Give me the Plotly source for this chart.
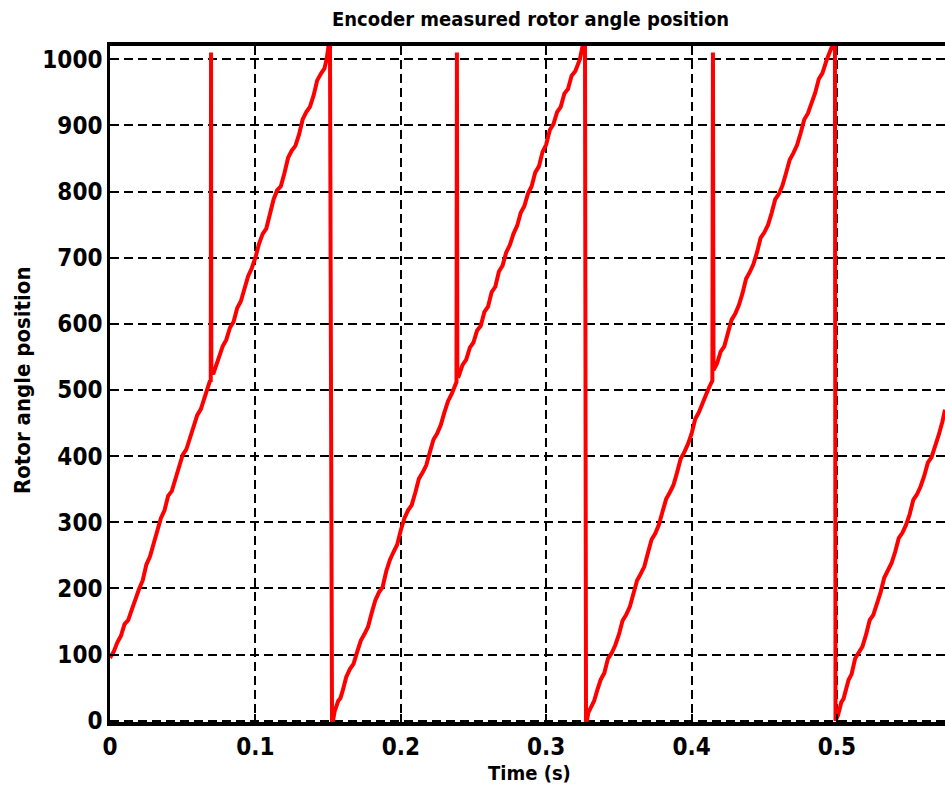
import plotly.graph_objects as go

# ---- data ----
ramp1_t = [0.0000, 0.0025, 0.0050, 0.0075, 0.0100, 0.0125, 0.0150, 0.0175, 0.0200, 0.0225,
           0.0250, 0.0275, 0.0300, 0.0325, 0.0350, 0.0375, 0.0400, 0.0425, 0.0450, 0.0475,
           0.0500, 0.0525, 0.0550, 0.0575, 0.0600, 0.0625, 0.0650, 0.0670, 0.0688, 0.0693,
           0.0695, 0.0697, 0.0710, 0.0735, 0.0750, 0.0775, 0.0800, 0.0825, 0.0850, 0.0875,
           0.0900, 0.0925, 0.0950, 0.0975, 0.1000, 0.1025, 0.1050, 0.1075, 0.1100, 0.1125,
           0.1150, 0.1175, 0.1200, 0.1225, 0.1250, 0.1275, 0.1300, 0.1325, 0.1350, 0.1375,
           0.1400, 0.1425, 0.1450, 0.1475, 0.1490, 0.1505, 0.1513, 0.1527]
ramp1_v = [95, 104, 118, 128, 146, 152, 168, 186, 199, 212,
           236, 248, 268, 291, 306, 318, 340, 347, 366, 388,
           402, 410, 428, 449, 462, 471, 489, 502, 514, 512,
           1010, 528, 524, 542, 548, 566, 576, 594, 603, 624,
           634, 655, 672, 684, 700, 721, 736, 744, 765, 788,
           802, 808, 828, 851, 862, 869, 886, 909, 920, 928,
           945, 968, 978, 986, 1000, 1023, 1023, 0]

ramp2_t = [0.1534, 0.1545, 0.1570, 0.1585, 0.1600, 0.1625, 0.1650, 0.1675, 0.1700, 0.1725,
           0.1750, 0.1775, 0.1800, 0.1825, 0.1850, 0.1875, 0.1900, 0.1925, 0.1950, 0.1975,
           0.2000, 0.2025, 0.2050, 0.2075, 0.2100, 0.2125, 0.2150, 0.2175, 0.2200, 0.2225,
           0.2250, 0.2275, 0.2300, 0.2325, 0.2350, 0.2370, 0.2383, 0.2386, 0.2389, 0.2400,
           0.2425, 0.2450, 0.2475, 0.2500, 0.2525, 0.2550, 0.2575, 0.2600, 0.2625, 0.2650,
           0.2675, 0.2700, 0.2725, 0.2750, 0.2775, 0.2800, 0.2825, 0.2850, 0.2875, 0.2900,
           0.2925, 0.2950, 0.2975, 0.3000, 0.3025, 0.3050, 0.3075, 0.3100, 0.3125, 0.3150,
           0.3175, 0.3200, 0.3232, 0.3253, 0.3267, 0.3274]
ramp2_v = [0, 14, 30, 34, 45, 66, 78, 86, 104, 121,
           131, 142, 163, 182, 194, 202, 226, 243, 255, 266,
           288, 306, 318, 326, 345, 366, 375, 386, 406, 425,
           434, 447, 466, 483, 494, 507, 512, 1010, 524, 522,
           538, 546, 564, 572, 590, 597, 618, 626, 648, 656,
           679, 688, 708, 719, 736, 748, 768, 778, 797, 808,
           829, 838, 860, 871, 893, 902, 920, 928, 948, 955,
           975, 982, 1000, 1023, 1023, 0]

ramp3_t = [0.3280, 0.3290, 0.3310, 0.3330, 0.3350, 0.3375, 0.3400, 0.3425, 0.3450, 0.3475,
           0.3500, 0.3525, 0.3550, 0.3575, 0.3600, 0.3625, 0.3650, 0.3675, 0.3700, 0.3725,
           0.3750, 0.3775, 0.3800, 0.3825, 0.3850, 0.3875, 0.3900, 0.3925, 0.3950, 0.3975,
           0.4000, 0.4025, 0.4050, 0.4075, 0.4100, 0.4125, 0.4143, 0.4147, 0.4151, 0.4175,
           0.4200, 0.4225, 0.4250, 0.4275, 0.4300, 0.4325, 0.4350, 0.4375, 0.4400, 0.4425,
           0.4450, 0.4475, 0.4500, 0.4525, 0.4550, 0.4575, 0.4600, 0.4625, 0.4650, 0.4675,
           0.4700, 0.4725, 0.4750, 0.4775, 0.4800, 0.4825, 0.4850, 0.4875, 0.4900, 0.4931,
           0.4972, 0.4986, 0.4990]
ramp3_v = [0, 12, 22, 30, 45, 62, 72, 94, 102, 114,
           130, 151, 160, 172, 192, 212, 222, 233, 254, 274,
           283, 296, 316, 335, 345, 356, 375, 396, 406, 418,
           434, 456, 466, 478, 493, 506, 514, 1010, 530, 540,
           558, 566, 585, 606, 615, 628, 646, 668, 678, 690,
           708, 730, 738, 749, 767, 788, 796, 809, 828, 848,
           858, 870, 888, 909, 918, 932, 949, 970, 979, 1000,
           1023, 1023, 0]

ramp4_t = [0.5007, 0.5030, 0.5045, 0.5060, 0.5080, 0.5100, 0.5125, 0.5150, 0.5175, 0.5200,
           0.5225, 0.5250, 0.5275, 0.5300, 0.5325, 0.5350, 0.5375, 0.5400, 0.5425, 0.5450,
           0.5475, 0.5500, 0.5525, 0.5550, 0.5575, 0.5600, 0.5625, 0.5650, 0.5675, 0.5700,
           0.5725, 0.5743]
ramp4_v = [8, 28, 33, 45, 62, 70, 94, 103, 112, 130,
           152, 160, 176, 194, 216, 228, 238, 255, 276, 284,
           296, 312, 334, 342, 354, 370, 390, 398, 414, 432,
           452, 470]

time_s = ramp1_t + ramp2_t + ramp3_t + ramp4_t
angle = ramp1_v + ramp2_v + ramp3_v + ramp4_v

x_ticks = [0, 0.1, 0.2, 0.3, 0.4, 0.5]
x_tick_labels = ["0", "0.1", "0.2", "0.3", "0.4", "0.5"]
y_ticks = [0, 100, 200, 300, 400, 500, 600, 700, 800, 900, 1000]
y_tick_labels = [str(v) for v in y_ticks]

title_text = "Encoder measured rotor angle position"
x_title = "Time (s)"
y_title = "Rotor angle position"

FONT = "DejaVu Sans Condensed, Liberation Sans Narrow, Arial Narrow, sans-serif"

FIG_W, FIG_H = 945, 789
PL, PT, PB = 110, 46, 789 - 722

fig = go.Figure()
fig.add_trace(go.Scatter(x=time_s, y=angle, mode="lines",
                         line=dict(color="#ff0000", width=4),
                         showlegend=False, hoverinfo="skip"))

axis_common = dict(
    showgrid=True, gridcolor="black", gridwidth=1.6, griddash="9px,5px",
    zeroline=False, showline=True, linecolor="black",
    ticks="inside", ticklen=8, tickwidth=2, tickcolor="black",
    tickfont=dict(family=FONT, size=24, color="black", weight="bold"),
)

fig.update_xaxes(range=[0, 0.5743], tickvals=x_ticks, ticktext=x_tick_labels,
                 mirror=True, linewidth=4, ticklabelstandoff=0, **axis_common)
fig.update_yaxes(range=[-2, 1020], tickvals=y_ticks, ticktext=y_tick_labels,
                 linewidth=2.5, ticklabelstandoff=0, **axis_common)

fig.update_layout(
    width=FIG_W, height=FIG_H,
    margin=dict(l=PL, r=0, t=PT, b=PB, pad=0),
    paper_bgcolor="white", plot_bgcolor="white",
    font=dict(family=FONT, color="black"),
)

pw, ph = FIG_W - PL, FIG_H - PT - PB


def px_to_paper(xp, yp):
    return (xp - PL) / pw, (FIG_H - PB - yp) / ph


tx, ty = px_to_paper(530, 19)
lx, ly = px_to_paper(529, 773)
yx, yy = px_to_paper(22, 380)
fig.add_annotation(text=title_text, x=tx, y=ty, xref="paper", yref="paper",
                   showarrow=False, xanchor="center", yanchor="middle",
                   font=dict(family=FONT, size=20, color="black", weight="bold"))
fig.add_annotation(text=x_title, x=lx, y=ly, xref="paper", yref="paper",
                   showarrow=False, xanchor="center", yanchor="middle",
                   font=dict(family=FONT, size=20, color="black", weight="bold"))
fig.add_annotation(text=y_title, x=yx, y=yy, xref="paper", yref="paper",
                   showarrow=False, xanchor="center", yanchor="middle", textangle=-90,
                   font=dict(family=FONT, size=22, color="black", weight="bold"))

fig.write_html("out.html",
               config={"responsive": False, "displayModeBar": False},
               post_script="document.body.style.margin='0';document.body.style.overflow='hidden';")
